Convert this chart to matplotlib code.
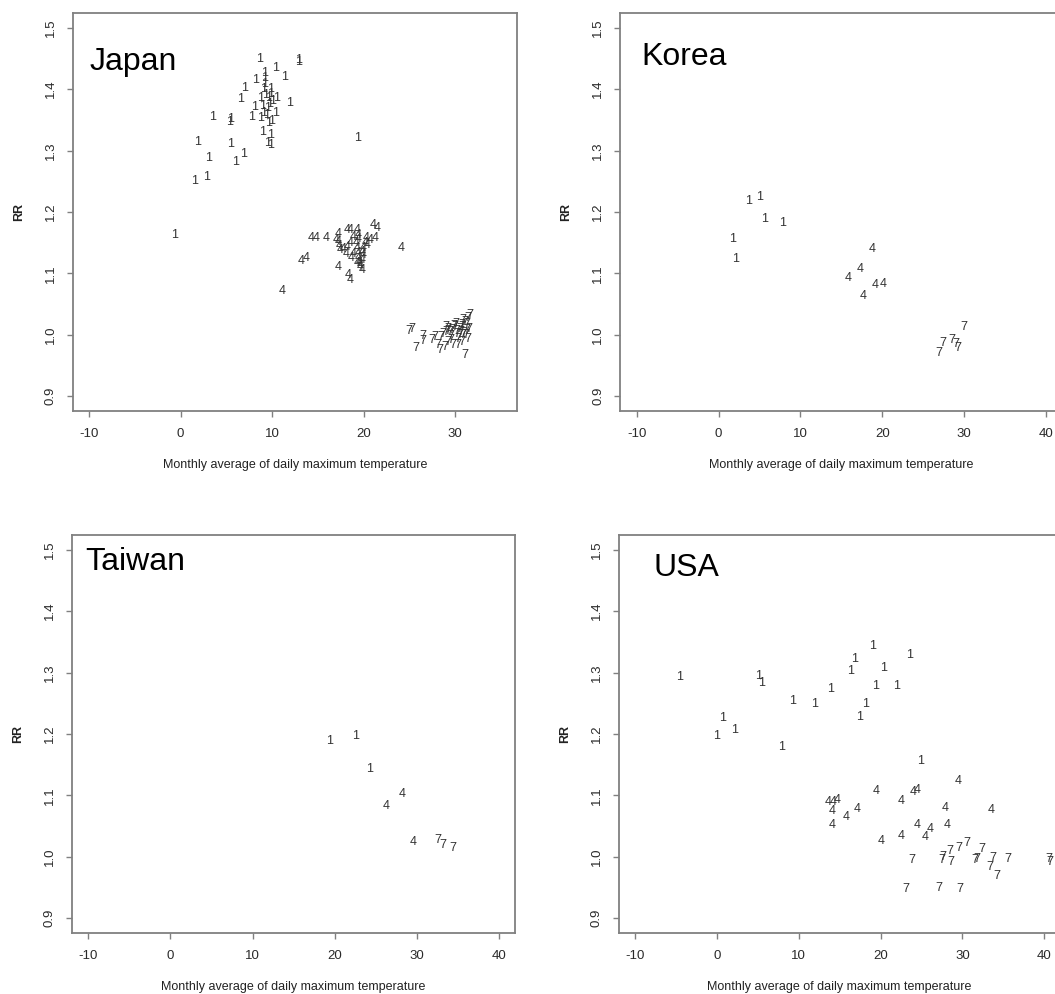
import matplotlib
matplotlib.use("Agg")
import matplotlib.pyplot as plt

plt.rcParams['font.family'] = ['Liberation Sans', 'DejaVu Sans']

# ---------------- data ----------------
month_labels = ['1', '4', '7']

jp_jan_x = [8.67, 12.86, 12.94, 10.39, 11.41, 8.24, 9.22, 9.22, 6.96, 9.04, 9.88, 6.60,
            8.78, 9.66, 10.50, 11.95, 8.05, 8.93, 9.70, 3.46, 5.39, 5.50, 7.76, 8.78,
            9.40, 10.39, 9.95, 8.93, 9.88, 9.50, 9.88, 1.86, 5.50, 19.36, 3.02, 6.85,
            6.01, 2.84, 1.56, -0.70, 9.30, 9.50, 9.10, 9.80, 9.60, 9.20, 10.00]
jp_jan_y = [1.449, 1.447, 1.444, 1.434, 1.420, 1.415, 1.418, 1.426, 1.402, 1.401, 1.401, 1.384,
            1.385, 1.385, 1.385, 1.378, 1.371, 1.372, 1.376, 1.355, 1.347, 1.352, 1.355, 1.353,
            1.358, 1.361, 1.348, 1.330, 1.326, 1.313, 1.309, 1.314, 1.310, 1.320, 1.288, 1.295,
            1.281, 1.257, 1.250, 1.162, 1.390, 1.370, 1.362, 1.392, 1.345, 1.408, 1.380]
jp_apr_x = [14.25, 14.87, 15.89, 17.24, 18.16, 18.52, 19.32, 19.37, 19.42, 17.25, 17.30, 17.40,
            18.20, 18.10, 19.20, 19.30, 19.40, 19.45, 19.55, 19.60, 20.00, 20.00, 19.90, 20.34,
            20.70, 20.40, 21.25, 21.07, 21.44, 24.17, 13.23, 13.78, 17.24, 18.33, 18.52, 11.15,
            18.70, 18.90, 19.30, 19.60, 17.00, 18.90, 19.80, 19.90, 17.80, 20.20, 18.50]
jp_apr_y = [1.157, 1.157, 1.158, 1.164, 1.171, 1.171, 1.171, 1.162, 1.156, 1.152, 1.145, 1.138,
            1.143, 1.131, 1.149, 1.141, 1.133, 1.125, 1.119, 1.114, 1.141, 1.130, 1.122, 1.157,
            1.154, 1.147, 1.158, 1.179, 1.174, 1.142, 1.120, 1.125, 1.111, 1.098, 1.089, 1.071,
            1.125, 1.131, 1.117, 1.110, 1.155, 1.160, 1.135, 1.105, 1.140, 1.150, 1.150]
jp_jul_x = [24.90, 25.33, 26.53, 26.43, 25.70, 27.45, 27.80, 28.10, 28.36,
            28.62, 28.98, 29.27, 29.56, 29.71, 30.00, 30.18, 30.36, 30.55, 30.73, 30.91,
            31.10, 31.28, 31.39, 31.64, 31.46, 29.27, 29.80, 28.90, 30.36, 30.73,
            31.10,
            29.00, 29.40, 29.90, 30.20, 30.50, 30.80, 31.00, 31.30, 31.50,
            29.60, 30.10, 30.60, 28.40, 31.20, 29.20, 30.90]
jp_jul_y = [1.006, 1.010, 0.998, 0.990, 0.979, 0.991, 0.997, 0.983, 0.975,
            1.001, 1.005, 1.009, 0.998, 1.008, 1.013, 1.002, 0.994, 1.010, 1.016, 0.999,
            1.021, 1.008, 1.027, 1.032, 0.994, 0.989, 0.984, 0.981, 0.983, 0.988,
            0.968,
            1.012, 1.004, 1.015, 1.007, 1.000, 1.012, 1.003, 1.018, 1.010,
            0.992, 1.018, 1.005, 0.996, 1.000, 1.006, 1.024]

kr_jan_x = [3.67, 5.02, 5.63, 7.87, 1.75, 2.04]
kr_jan_y = [1.218, 1.225, 1.189, 1.182, 1.156, 1.123]
kr_apr_x = [18.79, 17.24, 15.82, 19.08, 20.10, 17.65]
kr_apr_y = [1.139, 1.108, 1.093, 1.081, 1.082, 1.063]
kr_jul_x = [26.95, 27.44, 28.45, 28.98, 29.27, 30.00]
kr_jul_y = [0.971, 0.987, 0.992, 0.985, 0.979, 1.013]

tw_jan_x = [19.35, 22.48, 24.20]
tw_jan_y = [1.189, 1.196, 1.143]
tw_apr_x = [26.30, 28.20, 29.50]
tw_apr_y = [1.082, 1.103, 1.024]
tw_jul_x = [32.60, 33.20, 34.40]
tw_jul_y = [1.027, 1.019, 1.015]

us_jan_x = [-4.60, 5.09, 5.41, 0.73, 2.12, -0.08, 7.86, 9.28, 11.93, 13.84, 16.37, 16.77,
            19.05, 20.35, 23.60, 19.41, 21.98, 18.20, 17.39, 24.90]
us_jan_y = [1.292, 1.295, 1.283, 1.226, 1.207, 1.196, 1.178, 1.254, 1.249, 1.273, 1.303, 1.322,
            1.343, 1.307, 1.328, 1.278, 1.278, 1.249, 1.227, 1.156]
us_apr_x = [29.50, 19.41, 24.00, 24.50, 22.50, 13.55, 14.25, 14.73, 14.12, 14.04, 15.79, 17.20,
            27.88, 33.50, 24.50, 26.05, 28.16, 25.50, 22.46, 20.06]
us_apr_y = [1.123, 1.107, 1.105, 1.109, 1.091, 1.089, 1.089, 1.093, 1.075, 1.051, 1.065, 1.078,
            1.079, 1.076, 1.052, 1.046, 1.051, 1.032, 1.034, 1.026]
us_jul_x = [23.80, 27.50, 27.60, 28.56, 28.50, 29.60, 30.50, 31.55, 31.80, 32.43, 33.30, 33.70,
            34.26, 35.50, 40.60, 40.70, 23.07, 27.14, 29.70]
us_jul_y = [0.994, 0.994, 0.999, 0.991, 1.010, 1.014, 1.023, 0.994, 0.996, 1.013, 0.984, 0.998,
            0.969, 0.996, 0.997, 0.991, 0.947, 0.949, 0.947]

y_ticks = [0.9, 1.0, 1.1, 1.2, 1.3, 1.4, 1.5]
x_ticks_jp = [-10, 0, 10, 20, 30]
x_ticks_other = [-10, 0, 10, 20, 30, 40]
x_label = 'Monthly average of daily maximum temperature'
y_label = 'RR'

panels = [
    dict(name='Japan', pos=[0.069, 0.5865, 0.4212, 0.4004], xlim=(-11.8, 36.8), xticks=x_ticks_jp,
         series=[(jp_jan_x, jp_jan_y), (jp_apr_x, jp_apr_y), (jp_jul_x, jp_jul_y)],
         lab=(0.0387, 0.857)),
    dict(name='Korea', pos=[0.588, 0.5865, 0.4191, 0.4004], xlim=(-12, 42), xticks=x_ticks_other,
         series=[(kr_jan_x, kr_jan_y), (kr_apr_x, kr_apr_y), (kr_jul_x, kr_jul_y)],
         lab=(0.0484, 0.870)),
    dict(name='Taiwan', pos=[0.0681, 0.0614, 0.4205, 0.4004], xlim=(-12, 42), xticks=x_ticks_other,
         series=[(tw_jan_x, tw_jan_y), (tw_apr_x, tw_apr_y), (tw_jul_x, tw_jul_y)],
         lab=(0.0295, 0.912)),
    dict(name='USA', pos=[0.5863, 0.0614, 0.4191, 0.4004], xlim=(-12, 42), xticks=x_ticks_other,
         series=[(us_jan_x, us_jan_y), (us_apr_x, us_apr_y), (us_jul_x, us_jul_y)],
         lab=(0.0785, 0.898)),
]

fig = plt.figure(figsize=(10.55, 9.94), dpi=100)
frame_col = '#808080'
text_col = '#2a2a2a'

for p in panels:
    ax = fig.add_axes(p['pos'])
    ax.set_xlim(*p['xlim'])
    ax.set_ylim(0.876, 1.524)
    for (xs, ys), lab in zip(p['series'], month_labels):
        for x, y in zip(xs, ys):
            ax.text(x, y, lab, ha='center', va='center', fontsize=9,
                    color='#333333', clip_on=False)
    ax.set_xticks(p['xticks'])
    ax.set_xticklabels([str(t) for t in p['xticks']])
    ax.set_yticks(y_ticks)
    ax.set_yticklabels(['%.1f' % t for t in y_ticks], rotation=90, va='center')
    for s in ax.spines.values():
        s.set_color(frame_col)
        s.set_linewidth(1.3)
    ax.tick_params(direction='out', length=4.5, width=1.0, color=frame_col,
                   labelsize=9.5, labelcolor=text_col)
    ax.tick_params(axis='x', pad=8)
    ax.tick_params(axis='y', pad=7)
    ax.set_xlabel(x_label, fontsize=9, color='#222222')
    ax.xaxis.set_label_coords(0.5, -54 / 398)
    ax.xaxis.label.set_va('center')
    ax.set_ylabel(y_label, fontsize=9, color='#222222', fontweight='bold')
    ax.yaxis.set_label_coords(-54 / 443, 0.5)
    ax.yaxis.label.set_va('center')
    ax.text(p['lab'][0], p['lab'][1], p['name'], transform=ax.transAxes,
            fontsize=23, ha='left', va='baseline', color='black')

fig.savefig('out.png', dpi=100)
